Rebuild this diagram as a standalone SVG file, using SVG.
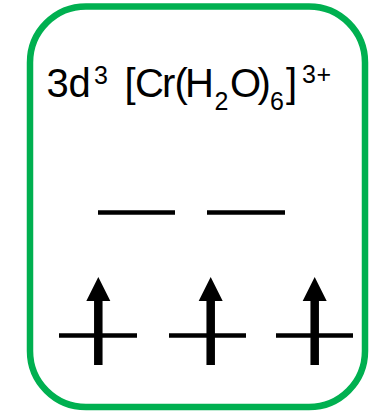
<svg xmlns="http://www.w3.org/2000/svg" width="375" height="411" viewBox="0 0 375 411">
<style>
.t{font-family:"Liberation Sans",Arial,sans-serif;fill:#000;font-size:40px}
.s{font-size:25px}
.lv{stroke:#000;stroke-width:4.5;fill:none}
.sh{stroke:#000;stroke-width:8.5;fill:none}
</style>
<defs>
<g id="arrow">
<line class="sh" x1="0" y1="365" x2="0" y2="298"/>
<polygon points="0,277 12,301 -12,301" fill="#000"/>
</g>
</defs>
<rect x="30" y="6.5" width="335" height="400.5" rx="56" ry="56" fill="#fff" stroke="#00b050" stroke-width="6.5"/>
<g id="label">
<text class="t"><tspan x="46.5 68.5" y="97">3d</tspan><tspan class="s" x="94" y="83.5">3</tspan><tspan x="124.5 135 162 174.5 185" y="97">[Cr(H</tspan><tspan class="s" x="214.5" y="110">2</tspan><tspan x="230 257.5" y="97">O)</tspan><tspan class="s" x="270" y="110">6</tspan><tspan x="286" y="97">]</tspan><tspan class="s" x="302 316.5" y="82.5">3+</tspan></text>
</g>
<g id="eg-levels">
<line class="lv" x1="98" y1="212.5" x2="175" y2="212.5"/>
<line class="lv" x1="207" y1="212.5" x2="285" y2="212.5"/>
</g>
<g id="t2g-levels">
<line class="lv" x1="59" y1="335.5" x2="137" y2="335.5"/>
<line class="lv" x1="169" y1="335.5" x2="246" y2="335.5"/>
<line class="lv" x1="276" y1="335.5" x2="353" y2="335.5"/>
</g>
<g id="electrons">
<use href="#arrow" x="98.3"/>
<use href="#arrow" x="210.7"/>
<use href="#arrow" x="314.7"/>
</g>
</svg>
